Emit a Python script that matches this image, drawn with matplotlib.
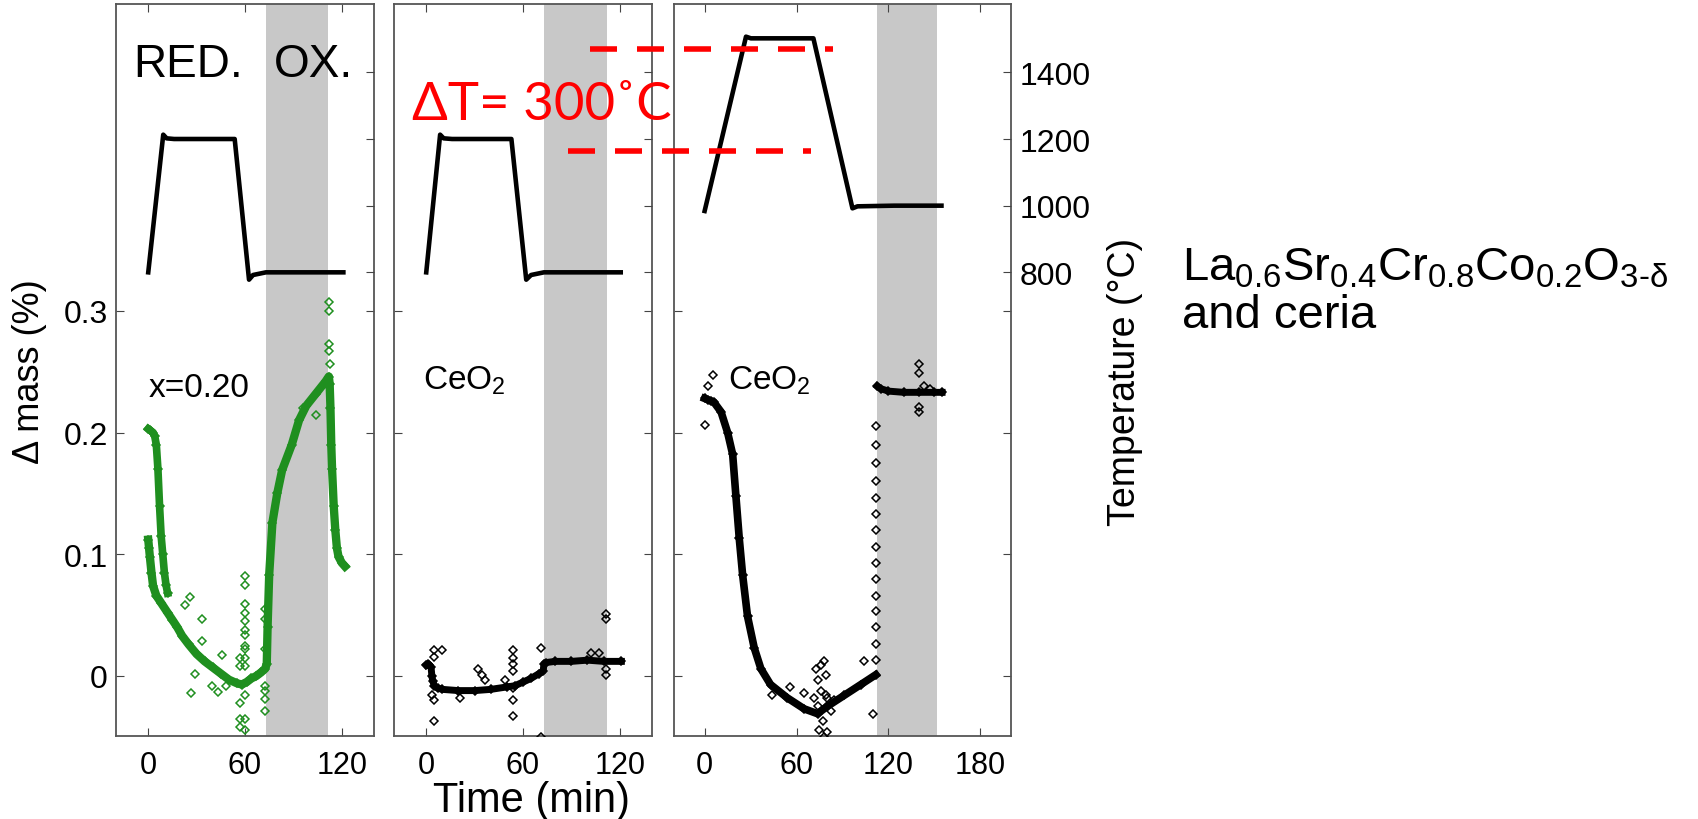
import numpy as np
import matplotlib.pyplot as plt

plt.rcParams['font.family'] = ['Liberation Sans', 'DejaVu Sans']
plt.rcParams['mathtext.fontset'] = 'custom'
plt.rcParams['mathtext.rm'] = 'Liberation Sans'
plt.rcParams['mathtext.it'] = 'Liberation Sans:italic'
plt.rcParams['mathtext.bf'] = 'Liberation Sans:bold'

#### temperature programmes (min, degC) ####
t1_T = [0, 9.3, 11.4, 16, 53.6, 62.5, 65, 73, 121]
T1 = [800, 1213, 1202, 1200, 1200, 778, 792, 800, 800]
t2_T = [0, 8.6, 10.8, 16, 52.8, 62, 65, 73, 120.6]
T2 = [800, 1213, 1202, 1200, 1200, 778, 792, 800, 800]
t3_T = [0, 27, 30.2, 71, 96.5, 99.8, 123.7, 154.6]
T3 = [984, 1507, 1502, 1502, 992, 998, 1000, 1000]

#### panel 1, x=0.20 (green) ####
g1a_t = [0, 1, 2, 3, 4, 5, 6, 7, 8, 9, 10, 11, 12]
g1a_m = [0.203, 0.202, 0.201, 0.200, 0.197, 0.19, 0.17, 0.14, 0.115, 0.1, 0.085, 0.075, 0.068]
g1_t = [0, 0.5, 1, 2, 3, 5, 8, 12, 15, 18, 21, 25, 30, 35, 40, 45, 50, 55, 58, 61, 64, 67, 70, 72.5,
        73.5, 74, 75, 77, 80, 83, 89, 93.5, 98, 104, 110, 112,
        112.5, 113, 113.5, 114, 115, 116, 117, 118, 120, 122]
g1_m = [0.112, 0.105, 0.098, 0.085, 0.074, 0.066, 0.06, 0.052, 0.046, 0.04, 0.033, 0.026, 0.018, 0.012, 0.007, 0.002, -0.003, -0.006, -0.007, -0.005, -0.002, 0.0, 0.003, 0.006,
        0.01, 0.04, 0.083, 0.126, 0.15, 0.169, 0.19, 0.21, 0.222, 0.232, 0.242, 0.246,
        0.24, 0.22, 0.19, 0.17, 0.14, 0.12, 0.105, 0.098, 0.093, 0.09]
g1o_t = [25.8, 22.8, 33.2, 33.6, 46, 28.9, 26.5, 39.4, 43.3, 48,
         60.3, 60.3, 60.3, 60.3, 60.3, 60.3, 60.3, 60.3, 60.3, 60.3, 60.3, 60.3, 60.3, 60.3,
         56.6, 56.6, 56.6, 56.6, 56.6,
         72.6, 72.6, 72.6, 72.6, 72.2, 72.2, 72.2,
         112, 112, 112.3, 112.3, 112.5, 103.8, 96]
g1o_m = [0.065, 0.058, 0.047, 0.029, 0.017, 0.002, -0.014, -0.008, -0.013, -0.008,
         0.082, 0.075, 0.059, 0.052, 0.045, 0.038, 0.034, 0.025, 0.022, 0.015, 0.008, -0.016, -0.035, -0.044,
         0.015, 0.008, -0.022, -0.035, -0.042,
         -0.008, -0.012, -0.019, -0.029, 0.022, 0.047, 0.055,
         0.307, 0.3, 0.273, 0.267, 0.256, 0.214, 0.22]

#### panel 2, CeO2 (black) ####
k2_t = [0, 1, 2, 3, 3.5, 4, 5, 7, 10, 20, 30, 40, 50, 55, 60, 65, 70, 72.5,
        73, 74, 80, 90, 100, 110, 121]
k2_m = [0.009, 0.01, 0.009, 0.007, 0.0, -0.004, -0.008, -0.01, -0.011, -0.012, -0.012, -0.011, -0.009, -0.008, -0.005, -0.002, 0.002, 0.004,
        0.01, 0.011, 0.012, 0.012, 0.013, 0.012, 0.012]
k2o_t = [4.5, 5.1, 3.5, 4.5, 5.1, 9.7, 21, 32.3, 34.3, 36.4, 48.7,
         53.8, 53.8, 53.8, 53.8, 53.8, 53.8, 53.8, 71.3, 71.3, 102, 107, 111.4, 111.4, 111.4, 111.4]
k2o_m = [0.021, 0.016, -0.016, -0.02, -0.037, 0.021, -0.018, 0.006, 0.001, -0.003, -0.003,
         0.021, 0.015, 0.01, 0.004, -0.01, -0.02, -0.033, 0.023, -0.05, 0.019, 0.019, 0.051, 0.047, 0.001, 0.006]

#### panel 3, CeO2 (black) ####
k3_t = [0, 2, 4, 6, 10.7, 15, 18.3, 20.4, 22.6, 24.8, 28, 32.4, 36.7, 43, 54, 65, 73.7, 80, 91, 102, 111.7]
k3_m = [0.228, 0.227, 0.226, 0.225, 0.217, 0.2, 0.182, 0.148, 0.113, 0.083, 0.049, 0.023, 0.006, -0.007, -0.018, -0.027, -0.031, -0.025, -0.016, -0.007, 0.001]
k3j_t = [111.8] * 15
k3j_m = [0.013, 0.026, 0.04, 0.053, 0.066, 0.08, 0.093, 0.106, 0.12, 0.133, 0.146, 0.16, 0.175, 0.19, 0.205]
k3b_t = [112.8, 115, 120, 130, 140, 150, 155]
k3b_m = [0.238, 0.236, 0.234, 0.233, 0.233, 0.233, 0.233]
k3o_t = [5.2, 0, 2, 140, 140, 140, 140, 143, 147, 109.6, 104, 56, 44, 65,
         72.6, 73.7, 75.9, 78, 79.1, 80.2, 71.5, 74.8, 77, 78, 80.2, 82.4, 84.6, 73.7, 75.9, 79.1]
k3o_m = [0.247, 0.206, 0.238, 0.256, 0.249, 0.221, 0.217, 0.238, 0.236, -0.031, 0.012, -0.009, -0.016, -0.014,
         0.006, -0.003, -0.012, 0.012, 0.001, -0.018, -0.018, -0.044, -0.037, -0.05, -0.046, -0.029, -0.02, -0.025, 0.009, -0.016]

ox_span = [(73, 111.5), (73, 112), (112.7, 151.8)]
xlims = [(-20, 140), (-20, 140), (-20, 200)]
xticks = [[0, 60, 120], [0, 60, 120], [0, 60, 120, 180]]
mass_ticks = [0, 0.1, 0.2, 0.3]
mass_labels = ['0', '0.1', '0.2', '0.3']
temp_ticks = [800, 1000, 1200, 1400]

# dashed red guide lines (panel 3 coordinates: min, degC)
dT_upper = ([-75, 84], [1470, 1470])
dT_lower = ([-89, 69.6], [1164, 1164])

green = '#1f8f1f'
W, H = 1699, 820
fig = plt.figure(figsize=(W / 100, H / 100), dpi=100)
boxes = [(116, 258), (394, 258), (674, 337)]
axs, tax = [], []
for i, (x0, w) in enumerate(boxes):
    ax = fig.add_axes([x0 / W, 83 / H, w / W, 732 / H])
    ax2 = ax.twinx()
    ax.set_xlim(*xlims[i])
    ax.set_ylim(-0.0493, 0.552)
    ax2.set_ylim(-591, 1605)
    ax.set_xticks(xticks[i])
    ax.set_yticks(mass_ticks)
    ax.set_yticklabels(mass_labels)
    ax2.set_yticks(temp_ticks)
    ax.tick_params(axis='x', direction='in', top=True, bottom=True, length=6,
                   labelsize=22, pad=10, color='#444444')
    ax.tick_params(axis='y', direction='in', left=True, right=True, length=6,
                   labelleft=(i == 0), labelright=False, labelsize=23, pad=6, color='#444444')
    ax2.tick_params(axis='y', direction='in', right=True, length=6,
                    labelright=(i == 2), labelsize=23, pad=6, color='#444444')
    for s in ax.spines.values():
        s.set_color('#555555')
        s.set_linewidth(1.3)
    for s in ax2.spines.values():
        s.set_visible(False)
    ax.axvspan(*ox_span[i], color='#c8c8c8', lw=0, zorder=0)
    axs.append(ax)
    tax.append(ax2)

def dots(ax, t, m, c, lw=0):
    if lw:
        ax.plot(t, m, '-', color=c, lw=lw, zorder=2)
    ax.plot(t, m, 'D', ls='none', ms=4.5, mfc='none', mec=c, mew=1.1, zorder=3)

dots(axs[0], g1a_t, g1a_m, green, 5.5)
dots(axs[0], g1_t, g1_m, green, 6)
dots(axs[0], g1o_t, g1o_m, green)
dots(axs[1], k2_t, k2_m, 'k', 5)
dots(axs[1], k2o_t, k2o_m, 'k')
dots(axs[2], k3_t, k3_m, 'k', 5.5)
dots(axs[2], k3j_t, k3j_m, 'k')
dots(axs[2], k3b_t, k3b_m, 'k', 5)
dots(axs[2], k3o_t, k3o_m, 'k')

tax[0].plot(t1_T, T1, color='k', lw=3.3)
tax[1].plot(t2_T, T2, color='k', lw=3.3)
tax[2].plot(t3_T, T3, color='k', lw=3.3)

for xs, ys in (dT_upper, dT_lower):
    tax[2].plot(xs, ys, color='red', lw=4, dashes=(4.86, 3.6), clip_on=False,
                solid_capstyle='butt', dash_capstyle='butt', zorder=10)

axs[0].text(-9.5, 0.493, 'RED.', fontsize=33, va='baseline')
axs[0].text(78, 0.493, 'OX.', fontsize=33, va='baseline')
axs[0].text(0, 0.23, 'x=0.20', fontsize=24, va='baseline')
axs[1].text(-2, 0.236, 'CeO$_2$', fontsize=24, va='baseline')
axs[2].text(15.3, 0.236, 'CeO$_2$', fontsize=24, va='baseline')

fig.text(412 / W, 1 - 120 / H, 'ΔT= 300˚C', color='red', fontsize=38,
         family=['Lato', 'DejaVu Sans'], va='baseline', ha='left')

fig.text(30 / W, 1 - 372 / H, 'Δ mass (%)', rotation=90, fontsize=26,
         ha='center', va='center')
fig.text(1125 / W, 1 - 382 / H, 'Temperature (°C)', rotation=90, fontsize=27,
         ha='center', va='center')
fig.text(532 / W, 1 - 812 / H, 'Time (min)', fontsize=30, ha='center', va='baseline')

fig.text(1182 / W, 1 - 280 / H, r'$\mathrm{La_{0.6}Sr_{0.4}Cr_{0.8}Co_{0.2}O_{3\text{-}δ}}$',
         fontsize=34, va='baseline')
fig.text(1182 / W, 1 - 328 / H, 'and ceria', fontsize=34, va='baseline')

fig.savefig('out.png', dpi=100)
